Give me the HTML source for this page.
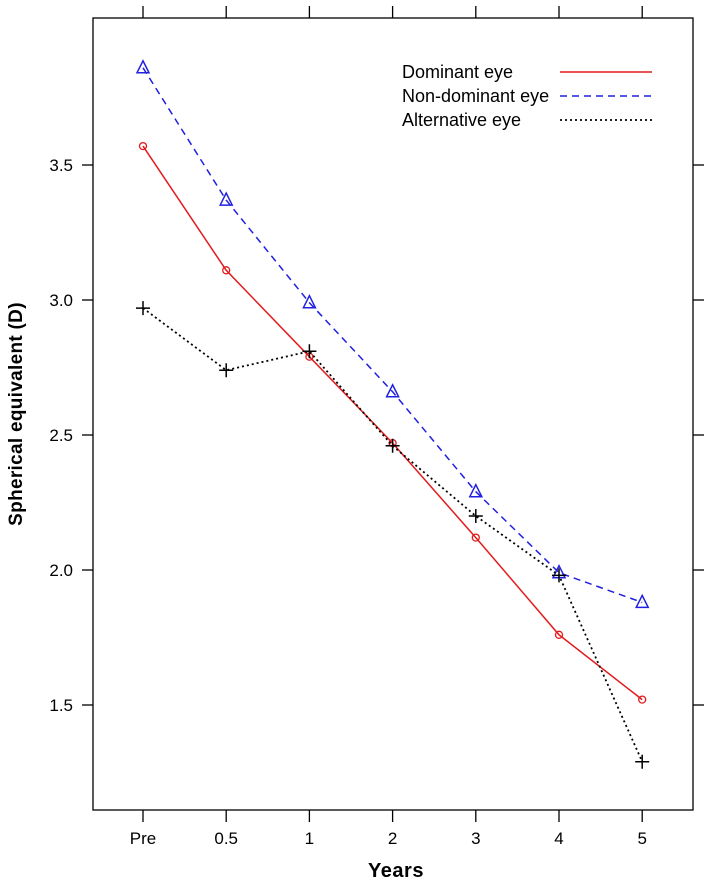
<!DOCTYPE html>
<html><head><meta charset="utf-8"><style>
body{margin:0;background:#fff;}
svg text{font-family:"Liberation Sans",sans-serif;}
</style></head><body>
<svg id="chart" width="712" height="882" xmlns="http://www.w3.org/2000/svg">
<rect x="93" y="18" width="600" height="792" fill="none" stroke="#000" stroke-width="1.3"/>
<g id="axes"></g>
<g id="series"></g>
<text x="396" y="877" text-anchor="middle" font-size="20" font-weight="bold" letter-spacing="0.5">Years</text>
<text transform="translate(22,414) rotate(-90)" text-anchor="middle" font-size="19" font-weight="bold" letter-spacing="0.3">Spherical equivalent (D)</text>
<g>
<text x="402" y="78" font-size="18">Dominant eye</text>
<line x1="560" y1="72" x2="652" y2="72" stroke="#e31a1c" stroke-width="1.5"/>
<text x="402" y="102" font-size="18">Non-dominant eye</text>
<line x1="560" y1="96" x2="652" y2="96" stroke="#2020e0" stroke-width="1.5" stroke-dasharray="7,5"/>
<text x="402" y="126" font-size="18">Alternative eye</text>
<line x1="560" y1="120" x2="652" y2="120" stroke="#000" stroke-width="1.8" stroke-dasharray="2,3"/>
</g>
</svg>
<script>
const categories = ["Pre","0.5","1","2","3","4","5"];
const dominant = [3.57,3.11,2.79,2.47,2.12,1.76,1.52];
const nonDominant = [3.86,3.37,2.99,2.66,2.29,1.99,1.88];
const alternative = [2.97,2.74,2.81,2.46,2.20,1.98,1.29];
const yTicks = [1.5,2.0,2.5,3.0,3.5];
const yTickLabels = ["1.5","2.0","2.5","3.0","3.5"];

const NS="http://www.w3.org/2000/svg";
function xPos(i){return 143 + i*83.2;}
function yPos(v){return 300 - (v-3)*270;}
function mk(tag,attrs,parent){const e=document.createElementNS(NS,tag);for(const k in attrs)e.setAttribute(k,attrs[k]);parent.appendChild(e);return e;}
const axes=document.getElementById('axes');
const series=document.getElementById('series');
categories.forEach((c,i)=>{
  const x=xPos(i);
  const t1=mk('line',{x1:x,y1:810,x2:x,y2:822,stroke:'#000','stroke-width':1.3},axes);
  
  
  const t2=mk('line',{x1:x,y1:6,x2:x,y2:18,stroke:'#000','stroke-width':1.3},axes);
  
  
  const lb=mk('text',{x:x,y:844,'text-anchor':'middle','font-size':17},axes);
  lb.textContent=c;
  
  
});
yTicks.forEach((v,i)=>{
  const y=yPos(v);
  const t1=mk('line',{x1:82,y1:y,x2:93,y2:y,stroke:'#000','stroke-width':1.3},axes);
  
  
  const t2=mk('line',{x1:693,y1:y,x2:704,y2:y,stroke:'#000','stroke-width':1.3},axes);
  
  
  const lb=mk('text',{x:73,y:y+6,'text-anchor':'end','font-size':17},axes);
  lb.textContent=yTickLabels[i];
  
  
});
function drawSeries(vals,color,dash,width,marker,name){
  const pts=vals.map((v,i)=>xPos(i)+','+yPos(v)).join(' ');
  const pl=mk('polyline',{points:pts,fill:'none',stroke:color,'stroke-width':width,'stroke-dasharray':dash},series);
  
  
  vals.forEach((v,i)=>{
    const x=xPos(i),y=yPos(v);let m;
    if(marker==='circle') m=mk('circle',{cx:x,cy:y,r:3.5,fill:'none',stroke:color,'stroke-width':1.3},series);
    else if(marker==='triangle') m=mk('polygon',{points:`${x},${y-7} ${x-6},${y+5} ${x+6},${y+5}`,fill:'none',stroke:color,'stroke-width':1.5},series);
    else m=mk('path',{d:`M${x-7},${y}H${x+7}M${x},${y-7}V${y+7}`,stroke:color,'stroke-width':1.5},series);
    
    
  });
}
drawSeries(dominant,'#e31a1c','none',1.5,'circle','dominant');
drawSeries(nonDominant,'#2020e0','7,5',1.5,'triangle','nondominant');
drawSeries(alternative,'#000','2,3',1.8,'plus','alternative');
</script>
</body></html>
